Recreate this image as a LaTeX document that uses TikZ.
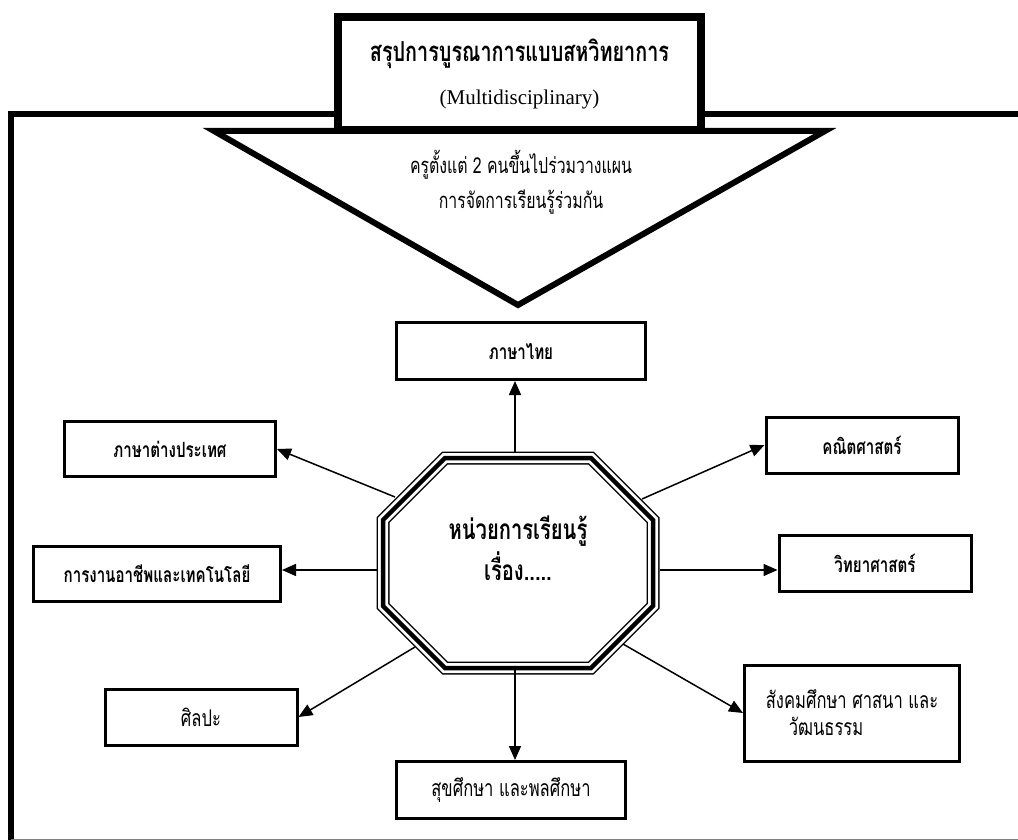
\documentclass[tikz,border=0pt]{standalone}
\usepackage{fontspec}
\setmainfont{Liberation Serif}
\newfontfamily\thaifont[Script=Thai,FakeStretch=0.72]{Loma}
\usetikzlibrary{arrows.meta}

\begin{document}
\begin{tikzpicture}[x=1pt, y=-1pt,
      subject/.style={draw, line width=3pt, fill=white, inner sep=2pt,
        font=\thaifont\bfseries\fontsize{21}{27}\selectfont},
      plain subject/.style={subject, font=\thaifont\fontsize{23}{27}\selectfont},
      link/.style={line width=1.5pt, -{Triangle[length=14pt, width=12pt]}}]
      \useasboundingbox (0,0) rectangle (1018,840);
      \draw[line width=6pt, line join=miter] (1018,114) -- (11,114) -- (11,840);
      \draw[gray, line width=1pt] (11,839) -- (1018,839);
      \draw[line width=6pt, fill=white, line join=miter] (214,131) -- (825,131) -- (518,305) -- cycle;
      \node[font=\thaifont\fontsize{22}{35}\selectfont, align=center] (plan) at (521,182)
          {ครูตั้งแต่ 2 คนขึ้นไปร่วมวางแผน\\การจัดการเรียนรู้ร่วมกัน};
      \node[draw, line width=8pt, fill=white, minimum width=363pt, minimum height=113pt,
          align=center, font=\fontsize{21}{43}\selectfont] (title) at (519.5,73.5)
          {{\thaifont\bfseries\fontsize{27.5}{30}\selectfont สรุปการบูรณาการแบบสหวิทยาการ}\\(Multidisciplinary)};
      \foreach \w/\c in {13/black, 10/white, 4.5/black}
          \draw[line width=\w pt, \c, line join=miter] (445,458) -- (591,458) -- (653,520) -- (653,606)
              -- (591,668) -- (445,668) -- (383,606) -- (383,520) -- cycle;
      \node[font=\thaifont\bfseries\fontsize{28}{41}\selectfont, align=center] (unit) at (518,548)
          {หน่วยการเรียนรู้\\เรื่อง.....};
      \coordinate (uN) at (515,452);
      \coordinate (uNE) at (642,499);
      \coordinate (uE) at (660,570);
      \coordinate (uSE) at (623,644);
      \coordinate (uS) at (515,667);
      \coordinate (uSW) at (415,647);
      \coordinate (uW) at (377,570);
      \coordinate (uNW) at (395,497);
      \node[subject, minimum width=249pt, minimum height=57pt] (thai) at (521,351) {ภาษาไทย};
      \node[subject, minimum width=211pt, minimum height=55pt] (foreign) at (170,449) {ภาษาต่างประเทศ};
      \node[subject, minimum width=247pt, minimum height=55pt] (career) at (157,574) {การงานอาชีพและเทคโนโลยี};
      \node[subject, minimum width=192pt, minimum height=56pt] (math) at (862,445) {คณิตศาสตร์};
      \node[subject, minimum width=192pt, minimum height=56pt] (science) at (875,563) {วิทยาศาสตร์};
      \node[plain subject, minimum width=192pt, minimum height=56pt] (art) at (201,717) {ศิลปะ};
      \node[plain subject, minimum width=229pt, minimum height=57pt] (health) at (511,790) {สุขศึกษา และพลศึกษา};
      \node[plain subject, minimum width=215pt, minimum height=96pt, align=left] (social) at (852,713)
          {สังคมศึกษา ศาสนา และ\\\hspace{23pt}วัฒนธรรม};
      \draw[link] (uN) -- (uN |- thai.south);
      \draw[link] (uNW) -- (foreign.east);
      \draw[link] (uW) -- (uW -| career.east);
      \draw[link] (uSW) -- (art.east);
      \draw[link] (uS) -- (uS |- health.north);
      \draw[link] (uSE) -- (social.west);
      \draw[link] (uE) -- (uE -| science.west);
      \draw[link] (uNE) -- (math.west);
\end{tikzpicture}
\end{document}
